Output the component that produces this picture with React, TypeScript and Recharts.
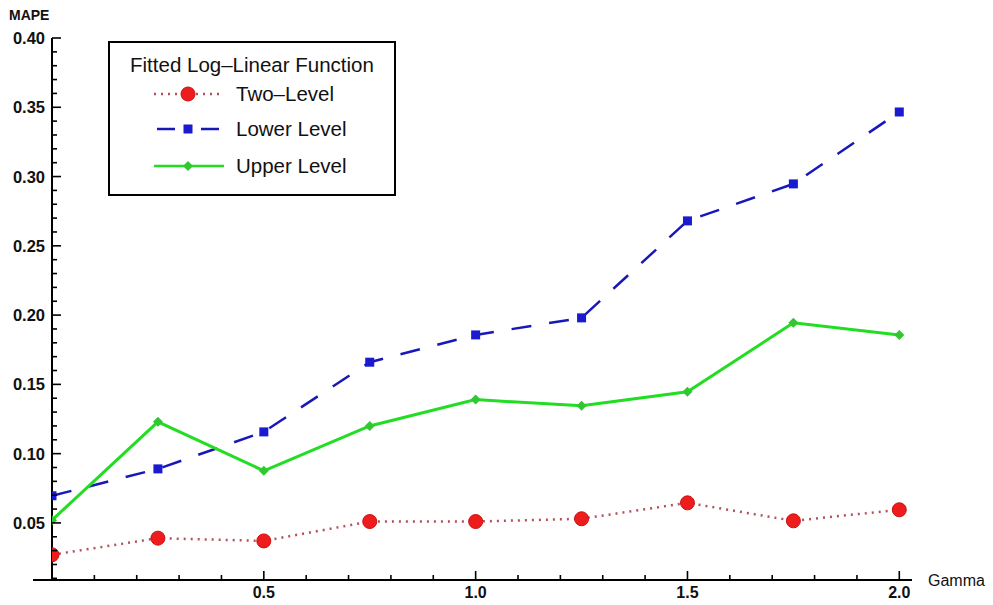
import { Label, Legend, Line, LineChart, XAxis, YAxis } from "recharts";

const gamma = [0, 0.25, 0.5, 0.75, 1.0, 1.25, 1.5, 1.75, 2.0];
const twoLevel = [0.027, 0.039, 0.037, 0.051, 0.051, 0.053, 0.0645, 0.0515, 0.0595];
const lowerLevel = [0.0696, 0.089, 0.1157, 0.166, 0.1857, 0.198, 0.268, 0.2947, 0.3466];
const upperLevel = [0.052, 0.123, 0.0876, 0.12, 0.139, 0.1345, 0.1446, 0.1944, 0.1857];

const xMajor = [0.5, 1.0, 1.5, 2.0];
const yMajor = [0.05, 0.1, 0.15, 0.2, 0.25, 0.3, 0.35, 0.4];

const xTicks: number[] = [];
for (let i = 0; i <= 20; i++) xTicks.push(+(i * 0.1).toFixed(2));
const yTicks: number[] = [];
for (let i = 1; i <= 40; i++) yTicks.push(+(i * 0.01).toFixed(2));

const data = gamma.map((g, i) => ({
  gamma: g,
  two: twoLevel[i],
  lower: lowerLevel[i],
  upper: upperLevel[i],
}));

const FONT = "'Liberation Sans', Arial, sans-serif";

const RED = "#ee1c1c";
const RED_LINE = "#b4505c";
const BLUE = "#1818b8";
const GREEN = "#22dd22";

const isMajor = (list: number[], v: number) => list.some((m) => Math.abs(m - v) < 1e-6);

const XTick = (props: any) => {
  const { x, y, payload } = props;
  const v = payload.value;
  const major = isMajor(xMajor, v);
  return (
    <g>
      {v === 0 && <line x1={x - 19} x2={x} y1={y} y2={y} stroke="#000" strokeWidth={2} />}
      {v > 0 && <line x1={x} x2={x} y1={y} y2={y - (major ? 9 : 5)} stroke="#000" strokeWidth={1.6} />}
      {major && (
        <text x={x} y={y + 18} textAnchor="middle" fontSize={16} fontWeight="bold" fontFamily={FONT} fill="#111">
          {v.toFixed(1)}
        </text>
      )}
    </g>
  );
};

const YTick = (props: any) => {
  const { x, y, payload } = props;
  const v = payload.value;
  const major = isMajor(yMajor, v);
  return (
    <g>
      <line x1={x} x2={x + (major ? 9 : 5)} y1={y} y2={y} stroke="#000" strokeWidth={1.6} />
      {major && (
        <text x={x - 7} y={y + 6} textAnchor="end" fontSize={16.5} fontWeight="bold" fontFamily={FONT} fill="#111">
          {v.toFixed(2)}
        </text>
      )}
    </g>
  );
};

const redDot = (p: any) => (
  <circle key={`r${p.index}`} cx={p.cx} cy={p.cy} r={7} fill={RED} stroke="#c81010" strokeWidth={1} />
);
const blueDot = (p: any) => (
  <rect key={`b${p.index}`} x={p.cx - 4.5} y={p.cy - 4.5} width={9} height={9} fill="#1a1ad0" />
);
const greenDot = (p: any) => (
  <path
    key={`g${p.index}`}
    d={`M${p.cx},${p.cy - 5}L${p.cx + 5},${p.cy}L${p.cx},${p.cy + 5}L${p.cx - 5},${p.cy}Z`}
    fill="#30c830"
  />
);

const series = [
  { key: "two", name: "Two-Level", color: RED_LINE, dash: "2 5", dot: redDot },
  { key: "lower", name: "Lower Level", color: BLUE, dash: "20 18", dot: blueDot },
  { key: "upper", name: "Upper Level", color: GREEN, dash: undefined, dot: greenDot },
];

// legend sample: blue gets two short dashes either side of the marker
const LegendBox = () => {
  const rows = [53, 88, 125];
  return (
    <svg width={290} height={156} style={{ display: "block" }}>
      <rect x={1} y={1} width={286} height={153} fill="#fff" stroke="#000" strokeWidth={2} />
      <text x={144} y={31} textAnchor="middle" fontSize={20.5} fontFamily={FONT} fill="#111">
        Fitted Log–Linear Function
      </text>
      {series.map((s, i) => (
        <g key={s.key}>
          {s.key === "lower" ? (
            <>
              <line x1={49} x2={67} y1={rows[i]} y2={rows[i]} stroke={s.color} strokeWidth={2.5} />
              <line x1={93} x2={111} y1={rows[i]} y2={rows[i]} stroke={s.color} strokeWidth={2.5} />
            </>
          ) : (
            <line
              x1={46}
              x2={116}
              y1={rows[i]}
              y2={rows[i]}
              stroke={s.color}
              strokeWidth={2.5}
              strokeDasharray={s.dash}
            />
          )}
          {s.dot({ cx: 80, cy: rows[i], index: i })}
          <text x={128} y={rows[i] + 7} fontSize={20.5} fontFamily={FONT} fill="#111">
            {s.name.replace("-", "–")}
          </text>
        </g>
      ))}
    </svg>
  );
};

export default function App() {
  return (
    <div style={{ position: "absolute", left: 0, top: 0, width: 993, height: 605, background: "#fff" }}>
      <LineChart width={993} height={605} data={data} margin={{ top: 38, right: 81, bottom: 0, left: 0 }}>
        <XAxis
          dataKey="gamma"
          type="number"
          domain={[0, 2.03]}
          ticks={xTicks}
          interval={0}
          tick={<XTick />}
          tickLine={false}
          tickSize={0}
          tickMargin={0}
          height={25}
          axisLine={{ stroke: "#000", strokeWidth: 2 }}
          allowDataOverflow
        >
          <Label
            content={(p: any) => {
              const vb = p.viewBox || {};
              return (
                <text x={vb.x + vb.width + 16} y={vb.y + 6} fontSize={16} fontFamily={FONT} fill="#111">
                  Gamma
                </text>
              );
            }}
          />
        </XAxis>
        <YAxis
          type="number"
          domain={[0.0088, 0.4]}
          ticks={yTicks}
          interval={0}
          tick={<YTick />}
          tickLine={false}
          tickSize={0}
          tickMargin={0}
          width={52}
          axisLine={{ stroke: "#000", strokeWidth: 2 }}
          allowDataOverflow
        >
          <Label
            content={(p: any) => {
              const vb = p.viewBox || {};
              return (
                <text x={vb.x + 9} y={vb.y - 18} fontSize={14} fontWeight="bold" fontFamily={FONT} fill="#111">
                  MAPE
                </text>
              );
            }}
          />
        </YAxis>
        <Legend
          layout="vertical"
          align="center"
          verticalAlign="middle"
          wrapperStyle={{ left: 108, top: 41, width: 290, height: 156 }}
          content={() => <LegendBox />}
        />
        {series.map((s) => (
          <Line
            key={s.key}
            dataKey={s.key}
            name={s.name}
            type="linear"
            stroke={s.color}
            strokeWidth={s.key === "upper" ? 3 : 2.5}
            strokeDasharray={s.dash}
            dot={s.dot}
            activeDot={false}
            isAnimationActive={false}
          />
        ))}
      </LineChart>
    </div>
  );
}
